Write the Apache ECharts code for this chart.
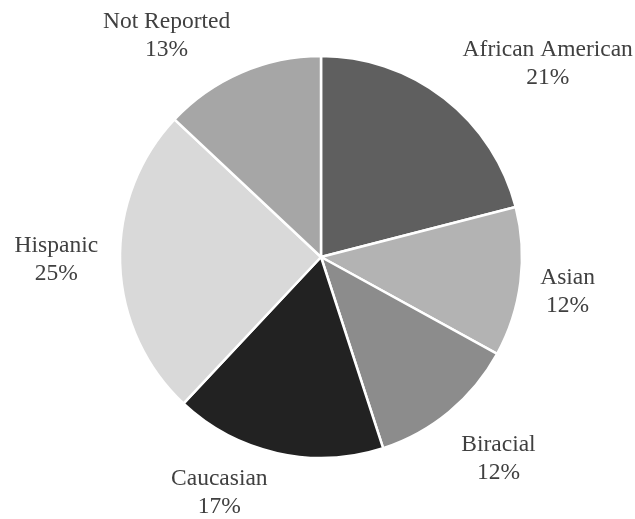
<!DOCTYPE html>
<html><head><meta charset="utf-8">
<script src="https://cdn.jsdelivr.net/npm/echarts@6/dist/echarts.min.js"></script>
<style>html,body{margin:0;padding:0;background:#fff}#c{width:635px;height:519px}</style>
</head><body><div id="c"></div>
<script>
const categories = ["African American","Asian","Biracial","Caucasian","Hispanic","Not Reported"];
const values = [21,12,12,17,25,13];
const colors = ["#5f5f5f","#b3b3b3","#8c8c8c","#222222","#d9d9d9","#a6a6a6"];
const chart = echarts.init(document.getElementById('c'));
const ff = 'Liberation Serif';
chart.setOption({
  animation:false,
  series:[{
    type:'pie',
    center:[321,257],
    radius:[0,201],
    startAngle:90,
    clockwise:true,
    avoidLabelOverlap:false,
    data:categories.map((n,i)=>({name:n,value:values[i],itemStyle:{color:colors[i]}})),
    itemStyle:{borderColor:'#fff',borderWidth:2.5},
    label:{show:true,position:'outside',overflow:'none',formatter:'{t|{b}}\n{t|{c}%}',
      rich:{t:{color:'#404040',fontFamily:ff,fontSize:23.5,lineHeight:28,align:'center'}}},
    labelLine:{show:false,length:30,length2:0},
    labelLayout:function(p){
      const shift=[[-5,-11],[-15,6],[-12,24],[2,10],[13,-4],[6,-9]][p.dataIndex];
      const r=p.labelRect;
      return {x:r.x+r.width/2+shift[0],y:r.y+r.height/2+shift[1],align:'center',verticalAlign:'middle'};
    }
  }]
});
</script></body></html>
